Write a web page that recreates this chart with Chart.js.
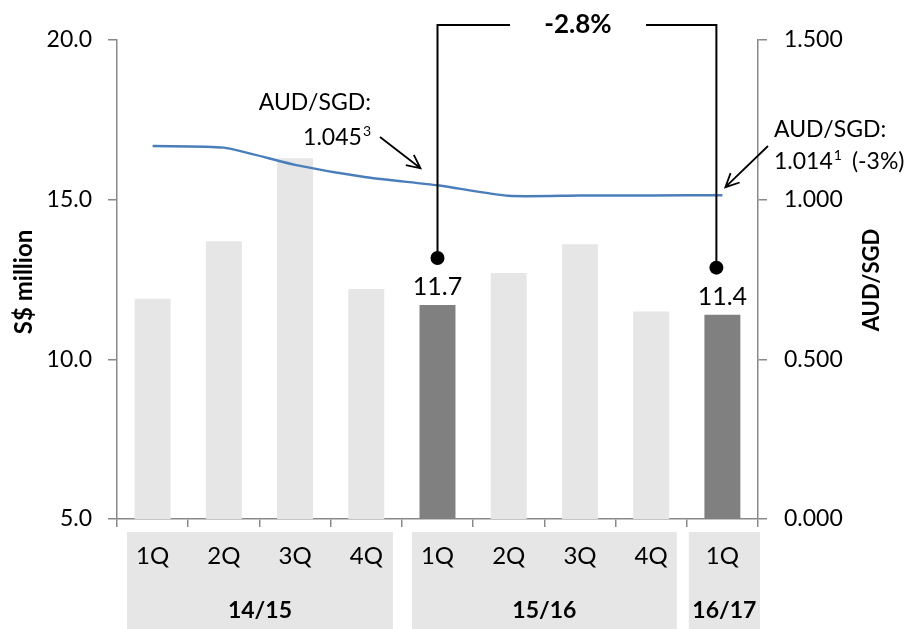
<!DOCTYPE html>
<html>
<head>
<meta charset="utf-8">
<title>Quarterly revenue and AUD/SGD</title>
<script src="https://cdn.jsdelivr.net/npm/chart.js@4.4.1/dist/chart.umd.min.js"></script>
<style>
    html, body { margin: 0; padding: 0; background: #fff; }
    #wrap { width: 912px; height: 629px; }
</style>
</head>
<body>
<div id="wrap"><canvas id="revenueChart"></canvas></div>
<script>
// Quarter labels and the fiscal years they belong to
const quarters = ['1Q', '2Q', '3Q', '4Q', '1Q', '2Q', '3Q', '4Q', '1Q'];
const fiscalYears = ['14/15', '15/16', '16/17'];
const yearFirstIdx = [0, 4, 8];
const yearLastIdx = [3, 7, 8];

// Revenue in S$ million, and average AUD/SGD rate per quarter
const revenue = [11.9, 13.7, 16.3, 12.2, 11.7, 12.7, 13.6, 11.5, 11.4];
const audSgd = [1.168, 1.163, 1.109, 1.070, 1.045, 1.012, 1.013, 1.013, 1.014];

// Compared quarters (1Q15/16 vs 1Q16/17) and change text
const compared = [4, 8];
const changeText = '-2.8%';

const FONT = 'Lato, "Noto Sans", sans-serif';
const AXIS_GREY = '#898989';

const barColors = revenue.map((v, i) => compared.includes(i) ? '#808080' : '#e6e6e6');

function arrow(ctx, x1, y1, x2, y2) {
    const a = Math.atan2(y2 - y1, x2 - x1);
    const len = 15, spread = 0.45;
    ctx.beginPath();
    ctx.moveTo(x1, y1);
    ctx.lineTo(x2, y2);
    ctx.moveTo(x2 - len * Math.cos(a - spread), y2 - len * Math.sin(a - spread));
    ctx.lineTo(x2, y2);
    ctx.lineTo(x2 - len * Math.cos(a + spread), y2 - len * Math.sin(a + spread));
    ctx.stroke();
}

// Draws the fiscal year boxes behind the x labels
const yearBoxes = {
    id: 'yearBoxes',
    beforeDraw(chart) {
        const ctx = chart.ctx;
        const x = chart.scales.x;
        const step = x.getPixelForValue(1) - x.getPixelForValue(0);
        const insets = [[10, 9], [10, 10], [2, -2]];
        ctx.save();
        fiscalYears.forEach((yr, i) => {
            const left = x.getPixelForValue(yearFirstIdx[i]) - step / 2 + insets[i][0];
            const right = x.getPixelForValue(yearLastIdx[i]) + step / 2 - insets[i][1];
            ctx.fillStyle = '#e6e6e6';
            ctx.fillRect(left, 532, right - left, 97);
            ctx.fillStyle = '#000';
            ctx.font = 'bold 23px ' + FONT;
            ctx.textAlign = 'center';
            ctx.textBaseline = 'middle';
            ctx.fillText(yr, (left + right) / 2, 611);
        });
        ctx.restore();
    }
};

// Value labels, comparison bracket, rate call-outs and axis titles
const annotations = {
    id: 'annotations',
    afterDatasetsDraw(chart) {
        const ctx = chart.ctx;
        const x = chart.scales.x;
        const y = chart.scales.y;
        const y1 = chart.scales.y1;
        ctx.save();

        // bracket between the two compared quarters
        const topY = 25;
        const dotX = [x.getPixelForValue(compared[0]), x.getPixelForValue(compared[1]) - 6];
        const dotY = compared.map(i => y.getPixelForValue(revenue[i]) - 47);
        ctx.strokeStyle = '#000';
        ctx.lineWidth = 2;
        ctx.beginPath();
        ctx.moveTo(dotX[0], dotY[0]);
        ctx.lineTo(dotX[0], topY);
        ctx.lineTo(510, topY);
        ctx.moveTo(646, topY);
        ctx.lineTo(dotX[1], topY);
        ctx.lineTo(dotX[1], dotY[1]);
        ctx.stroke();
        ctx.fillStyle = '#000';
        dotX.forEach((dx, k) => {
            ctx.beginPath();
            ctx.arc(dx, dotY[k], 7, 0, Math.PI * 2);
            ctx.fill();
        });
        ctx.font = 'bold 26px ' + FONT;
        ctx.textAlign = 'center';
        ctx.textBaseline = 'middle';
        ctx.fillText(changeText, 578, topY);

        // bar value labels
        ctx.font = '25px ' + FONT;
        ctx.textBaseline = 'alphabetic';
        compared.forEach(i => {
            ctx.fillText(revenue[i].toFixed(1), x.getPixelForValue(i), y.getPixelForValue(revenue[i]) - 10);
        });

        // rate call-outs
        ctx.font = '23px ' + FONT;
        ctx.textAlign = 'right';
        ctx.textBaseline = 'middle';
        ctx.fillText('AUD/SGD:', 371, 103);
        ctx.font = '14px ' + FONT;
        ctx.fillText('3', 371, 131);
        const supW = ctx.measureText('3').width + 1;
        ctx.font = '23px ' + FONT;
        ctx.fillText(audSgd[compared[0]].toFixed(3), 371 - supW, 138);

        ctx.textAlign = 'left';
        ctx.fillText('AUD/SGD:', 774, 130);
        const rateTxt = audSgd[compared[1]].toFixed(3);
        ctx.fillText(rateTxt, 774, 162);
        let cx = 774 + ctx.measureText(rateTxt).width + 1;
        ctx.font = '14px ' + FONT;
        ctx.fillText('1', cx, 155);
        cx += ctx.measureText('1').width + 10;
        ctx.font = '23px ' + FONT;
        ctx.fillText('(-3%)', cx, 162);

        ctx.lineWidth = 1.8;
        const p0x = x.getPixelForValue(compared[0]), p0y = y1.getPixelForValue(audSgd[compared[0]]);
        arrow(ctx, 380, 137, p0x - 17, p0y - 17);
        const p1x = x.getPixelForValue(compared[1]), p1y = y1.getPixelForValue(audSgd[compared[1]]);
        arrow(ctx, 768, 146, p1x + 3, p1y - 8);

        // axis titles
        ctx.textAlign = 'center';
        ctx.font = 'bold 24px ' + FONT;
        ctx.save();
        ctx.translate(24, 282);
        ctx.rotate(-Math.PI / 2);
        ctx.fillText('S$ million', 0, 0);
        ctx.restore();
        ctx.font = 'bold 22px ' + FONT;
        ctx.save();
        ctx.translate(872, 280);
        ctx.rotate(-Math.PI / 2);
        ctx.fillText('AUD/SGD', 0, 0);
        ctx.restore();

        ctx.restore();
    }
};

const ctxEl = document.getElementById('revenueChart');
ctxEl.chart = new Chart(ctxEl, {
    type: 'bar',
    data: {
        labels: quarters,
        datasets: [{
            type: 'line',
            label: 'AUD/SGD',
            data: audSgd,
            yAxisID: 'y1',
            borderColor: '#4a7ebb',
            borderWidth: 2.5,
            pointRadius: 0,
            tension: 0.2,
            fill: false,
            order: 0
        }, {
            label: 'Revenue',
            data: revenue,
            yAxisID: 'y',
            backgroundColor: barColors,
            borderWidth: 0,
            barPercentage: 0.505,
            categoryPercentage: 1,
            order: 1
        }]
    },
    options: {
        responsive: true,
        maintainAspectRatio: false,
        animation: false,
        layout: { padding: { top: 40, left: 0, right: 0, bottom: 0 } },
        plugins: {
            legend: { display: false },
            tooltip: { enabled: false }
        },
        scales: {
            x: {
                grid: { offset: true, drawOnChartArea: false, drawTicks: true, tickLength: 8, color: AXIS_GREY, lineWidth: 1.5 },
                border: { color: AXIS_GREY, width: 1.5 },
                ticks: { color: '#000', font: { family: FONT, size: 24 }, padding: 15, maxRotation: 0 },
                afterFit(scale) { scale.height = 110; }
            },
            y: {
                position: 'left',
                min: 5,
                max: 20,
                grid: { drawOnChartArea: false, tickLength: 9, color: AXIS_GREY, lineWidth: 1.5 },
                border: { color: AXIS_GREY, width: 1.5 },
                ticks: {
                    stepSize: 5,
                    color: '#000',
                    padding: 16,
                    font: { family: FONT, size: 23 },
                    callback: v => v.toFixed(1)
                },
                afterFit(scale) { scale.width = 117; }
            },
            y1: {
                position: 'right',
                min: 0,
                max: 1.5,
                grid: { drawOnChartArea: false, tickLength: 9, color: AXIS_GREY, lineWidth: 1.5 },
                border: { color: AXIS_GREY, width: 1.5 },
                ticks: {
                    stepSize: 0.5,
                    color: '#000',
                    padding: 17,
                    font: { family: FONT, size: 23 },
                    callback: v => v.toFixed(3)
                },
                afterFit(scale) { scale.width = 154; }
            }
        }
    },
    plugins: [yearBoxes, annotations]
});
</script>
</body>
</html>
